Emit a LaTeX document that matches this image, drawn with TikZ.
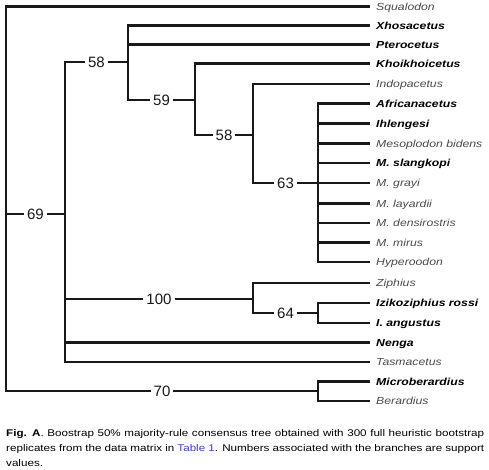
\documentclass[tikz,border=0pt]{standalone}
\usepackage{fontspec}
\setmainfont{Liberation Sans}[FakeStretch=1.2]
\newfontfamily\numfont{Liberation Sans}
\definecolor{leafgray}{HTML}{4A4A4A}
\definecolor{linkblue}{HTML}{3A3AD8}
\hyphenpenalty=10000
\exhyphenpenalty=10000

\begin{document}
\begin{tikzpicture}[
    x=1pt, y=-1pt,
    branch/.style={
        line width=2.2pt,
        draw=black!90
    },
    taxon/.style={
        anchor=west,
        inner xsep=6pt,
        inner ysep=0pt,
        text height=7.2pt,
        text depth=0pt,
        font=\fontsize{10.2}{12}\selectfont\itshape,
        text=leafgray
    },
    taxonbold/.style={
        taxon,
        font=\fontsize{10.2}{12}\selectfont\itshape\bfseries,
        text=black
    },
    support/.style={
        fill=white,
        inner xsep=3pt,
        inner ysep=1pt,
        font=\numfont\fontsize{15}{18}\selectfont,
        text=black!90
    },
    caption/.style={
        text width=478pt,
        align=justify,
        inner sep=0pt,
        font=\fontsize{9.7}{15}\selectfont,
        text=black
    }
]
\useasboundingbox (0,0) rectangle (489,470);

\coordinate (root) at (6,214);
\coordinate (n69) at (65,214);
\coordinate (n58a) at (128,62);
\coordinate (n59) at (195,100);
\coordinate (n58b) at (253,135);
\coordinate (n63) at (318,183);
\coordinate (n100) at (253,299);
\coordinate (n64) at (318,313);
\coordinate (n70) at (318,391);

\node[taxon] (squalodon) at (370,6.5) {Squalodon};
\node[taxonbold] (xhosacetus) at (370,25.5) {Xhosacetus};
\node[taxonbold] (pterocetus) at (370,44.5) {Pterocetus};
\node[taxonbold] (khoikhoicetus) at (370,63.5) {Khoikhoicetus};
\node[taxon] (indopacetus) at (370,84) {Indopacetus};
\node[taxonbold] (africanacetus) at (370,103.5) {Africanacetus};
\node[taxonbold] (ihlengesi) at (370,123.5) {Ihlengesi};
\node[taxon] (bidens) at (370,143.5) {Mesoplodon bidens};
\node[taxonbold] (slangkopi) at (370,163) {M. slangkopi};
\node[taxon] (grayi) at (370,183) {M. grayi};
\node[taxon] (layardii) at (370,203.5) {M. layardii};
\node[taxon] (densirostris) at (370,223) {M. densirostris};
\node[taxon] (mirus) at (370,242.5) {M. mirus};
\node[taxon] (hyperoodon) at (370,262) {Hyperoodon};
\node[taxon] (ziphius) at (370,283) {Ziphius};
\node[taxonbold] (rossi) at (370,303) {Izikoziphius rossi};
\node[taxonbold] (angustus) at (370,323) {I. angustus};
\node[taxonbold] (nenga) at (370,342.5) {Nenga};
\node[taxon] (tasmacetus) at (370,362) {Tasmacetus};
\node[taxonbold] (microberardius) at (370,381.5) {Microberardius};
\node[taxon] (berardius) at (370,401) {Berardius};

% root
\draw[branch] (root) |- (squalodon);
\draw[branch] (root) |- node[support, pos=0.75] {69} (n69);
\draw[branch] (root) |- node[support, pos=0.75] {70} (n70);

% clade 69
\draw[branch] (n69) |- node[support, pos=0.75] {58} (n58a);
\draw[branch] (n69) |- node[support, pos=0.75] {100} (n100);
\draw[branch] (n69) |- (nenga);
\draw[branch] (n69) |- (tasmacetus);

\draw[branch] (n58a) |- (xhosacetus);
\draw[branch] (n58a) |- (pterocetus);
\draw[branch] (n58a) |- node[support, pos=0.75] {59} (n59);

\draw[branch] (n59) |- (khoikhoicetus);
\draw[branch] (n59) |- node[support, pos=0.75] {58} (n58b);

\draw[branch] (n58b) |- (indopacetus);
\draw[branch] (n58b) |- node[support, pos=0.75] {63} (n63);

\draw[branch] (n63) |- (africanacetus);
\draw[branch] (n63) |- (ihlengesi);
\draw[branch] (n63) |- (bidens);
\draw[branch] (n63) |- (slangkopi);
\draw[branch] (n63) |- (grayi);
\draw[branch] (n63) |- (layardii);
\draw[branch] (n63) |- (densirostris);
\draw[branch] (n63) |- (mirus);
\draw[branch] (n63) |- (hyperoodon);

\draw[branch] (n100) |- (ziphius);
\draw[branch] (n100) |- node[support, pos=0.75] {64} (n64);

\draw[branch] (n64) |- (rossi);
\draw[branch] (n64) |- (angustus);

% clade 70
\draw[branch] (n70) |- (microberardius);
\draw[branch] (n70) |- (berardius);

\node[caption, anchor=north west] (legend) at (6,429) {\textbf{Fig. A}. Boostrap 50\% majority-rule consensus tree obtained with 300 full heuristic bootstrap\linebreak replicates from the data matrix in \textcolor{linkblue}{Table 1}. Numbers associated with the branches are support\linebreak values.};

\end{tikzpicture}
\end{document}
